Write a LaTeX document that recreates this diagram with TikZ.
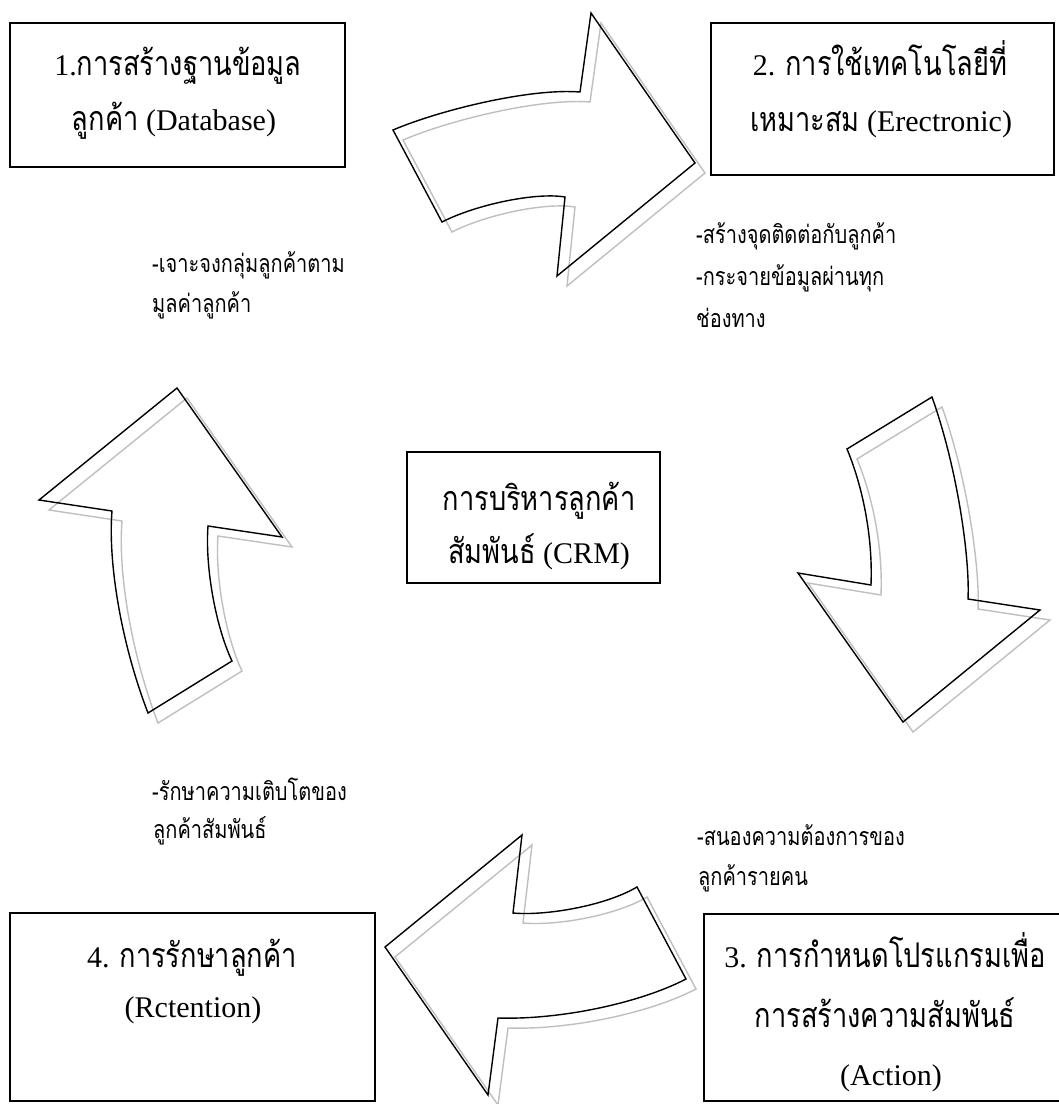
\documentclass[tikz,border=0pt]{standalone}
\usepackage{fontspec}
\setmainfont{Liberation Serif}
\newfontfamily\thaifont[Script=Thai,FakeStretch=0.8]{Loma}
\newcommand{\thb}[1]{{\thaifont\fontsize{34}{40}\selectfont #1}}
\begin{document}
\begin{tikzpicture}[x=1pt,y=-1pt,
  box/.style={draw=black,line width=1.8pt,inner sep=0pt},
  big/.style={font=\fontsize{30}{36}\selectfont,anchor=base,inner sep=0pt},
  note/.style={font=\thaifont\fontsize{25}{30}\selectfont,anchor=base west,inner sep=0pt},
  arr/.style={draw=black,line width=1.4pt,miter limit=10},
  shade/.style={draw=black!25,line width=1.4pt,shift={(10,10)}}]
\useasboundingbox[fill=white] (0,0) rectangle (1059,1104);

% boxes
\node[box,minimum width=335pt,minimum height=144pt] (b1) at (177.5,95) {};
\node[box,minimum width=343pt,minimum height=152pt] (b2) at (882.5,99) {};
\node[box,minimum width=253pt,minimum height=131pt] (bc) at (533.5,517.5) {};
\node[box,minimum width=366pt,minimum height=187pt] (b3) at (887,1007.5) {};
\node[box,minimum width=365pt,minimum height=188pt] (b4) at (192.5,1007) {};

% box texts
\node[big] (t1a) at (178,75) {1.\thb{การสร้างฐานข้อมูล}};
\node[big] (t1b) at (174,130) {\thb{ลูกค้า} (Database)};
\node[big] (t2a) at (880,75) {2. \thb{การใช้เทคโนโลยีที่}};
\node[big] (t2b) at (881,131) {\thb{เหมาะสม} (Erectronic)};
\node[big] (tca) at (539,510) {\thb{การบริหารลูกค้า}};
\node[big] (tcb) at (539,563) {\thb{สัมพันธ์} (CRM)};
\node[big] (t3a) at (885,967) {3. \thb{การกำหนดโปรแกรมเพื่อ}};
\node[big] (t3b) at (885,1027) {\thb{การสร้างความสัมพันธ์}};
\node[big] (t3c) at (891,1085) {(Action)};
\node[big] (t4a) at (192,967) {4. \thb{การรักษาลูกค้า}};
\node[big] (t4b) at (193,1017) {(Rctention)};

% notes
\node[note] (n2a) at (696,243) {-สร้างจุดติดต่อกับลูกค้า};
\node[note] (n2b) at (696,285) {-กระจายข้อมูลผ่านทุก};
\node[note] (n2c) at (696,327) {ช่องทาง};
\node[note] (n1a) at (152,272) {-เจาะจงกลุ่มลูกค้าตาม};
\node[note] (n1b) at (152,312) {มูลค่าลูกค้า};
\node[note] (n4a) at (152,800) {-รักษาความเติบโตของ};
\node[note] (n4b) at (153,838) {ลูกค้าสัมพันธ์};
\node[note] (n3a) at (697,845) {-สนองความต้องการของ};
\node[note] (n3b) at (698,885) {ลูกค้ารายคน};

% arrow 1 (top, to the right)
\draw[shade] (393,130) -- (442,222) .. controls (475,205) and (535,192) .. (565,197) -- (557,276) -- (695,163) -- (591,13) -- (580,92) .. controls (530,88) and (440,110) .. (393,130) -- cycle;
\draw[arr] (393,130) -- (442,222) .. controls (475,205) and (535,192) .. (565,197) -- (557,276) -- (695,163) -- (591,13) -- (580,92) .. controls (530,88) and (440,110) .. (393,130) -- cycle;

% arrow 2 (right, downwards)
\draw[shade] (932,397) -- (847,449) .. controls (862,485) and (873,535) .. (871,585) -- (798,573) -- (903,722) -- (1040,610) -- (968,599) .. controls (970,560) and (958,470) .. (932,397) -- cycle;
\draw[arr] (932,397) -- (847,449) .. controls (862,485) and (873,535) .. (871,585) -- (798,573) -- (903,722) -- (1040,610) -- (968,599) .. controls (970,560) and (958,470) .. (932,397) -- cycle;

% arrow 3 (bottom, to the left)
\draw[shade] (637,887) -- (686,979) .. controls (640,1003) and (560,1020) .. (498,1018) -- (488,1095) -- (385,947) -- (522,835) -- (513,913) .. controls (545,916) and (605,906) .. (637,887) -- cycle;
\draw[arr] (637,887) -- (686,979) .. controls (640,1003) and (560,1020) .. (498,1018) -- (488,1095) -- (385,947) -- (522,835) -- (513,913) .. controls (545,916) and (605,906) .. (637,887) -- cycle;

% arrow 4 (left, upwards)
\draw[shade] (148,713) -- (232,661) .. controls (215,625) and (205,565) .. (208,526) -- (282,537) -- (177,388) -- (39,500) -- (112,511) .. controls (108,560) and (120,640) .. (148,713) -- cycle;
\draw[arr] (148,713) -- (232,661) .. controls (215,625) and (205,565) .. (208,526) -- (282,537) -- (177,388) -- (39,500) -- (112,511) .. controls (108,560) and (120,640) .. (148,713) -- cycle;
\end{tikzpicture}
\end{document}
